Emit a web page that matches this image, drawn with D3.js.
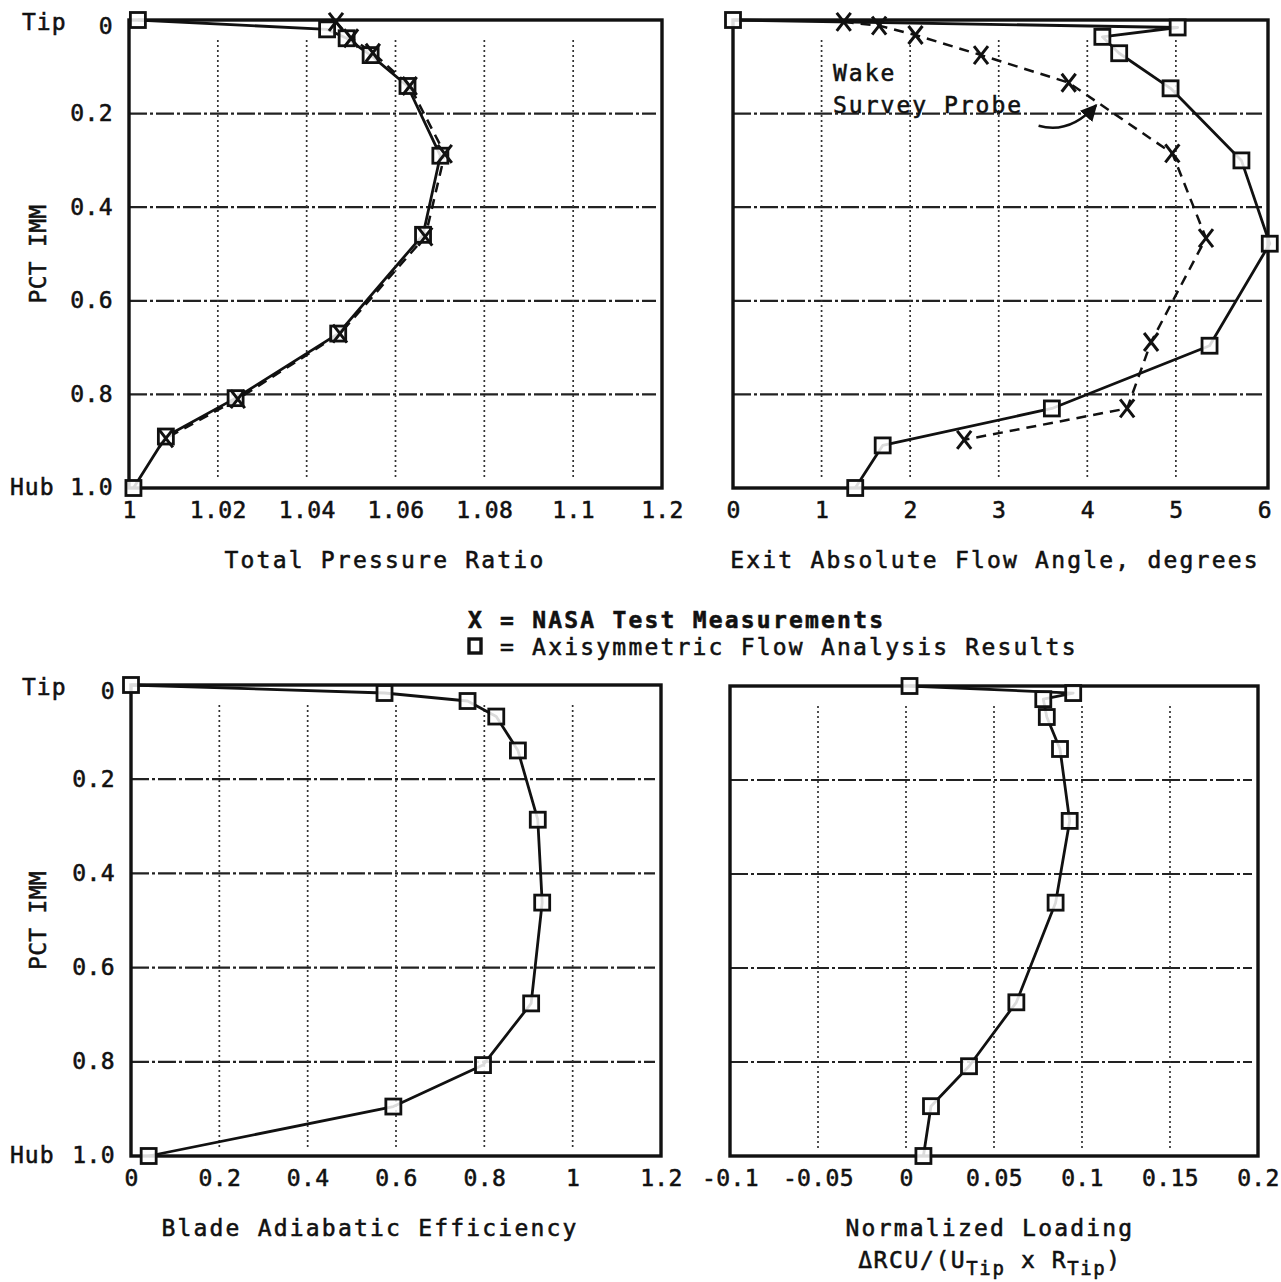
<!DOCTYPE html>
<html>
<head>
<meta charset="utf-8">
<script src="https://cdn.jsdelivr.net/npm/d3@7"></script>
<style>
body { margin: 0; background: #fff; }
text { font-family: 'DejaVu Sans Mono', monospace; fill: #111; stroke: #111; stroke-width: 0.55px; }
</style>
</head>
<body>
<svg id="fig" width="1281" height="1282"></svg>
<script>
// values

// radial position (0 = tip, 1 = hub)
const immTicks = [0, 0.2, 0.4, 0.6, 0.8, 1.0];
const immLabels = ["0", "0.2", "0.4", "0.6", "0.8", "1.0"];
const immGrid = [0.2, 0.4, 0.6, 0.8];

// total pressure ratio
const prTicks = [1, 1.02, 1.04, 1.06, 1.08, 1.10, 1.12];
const prLabels = ["1", "1.02", "1.04", "1.06", "1.08", "1.1", "1.2"];
const prGrid = [1.02, 1.04, 1.06, 1.08, 1.10];
const prCalcImm = [0, 0.02, 0.039, 0.075, 0.141, 0.29, 0.459, 0.67, 0.808, 0.89, 1.0];
const prCalc = [1.002, 1.0446, 1.049, 1.0544, 1.0627, 1.0701, 1.0662, 1.0471, 1.024, 1.0083, 1.001];
const prTestImm = [0.004, 0.039, 0.07, 0.141, 0.286, 0.463, 0.67, 0.81, 0.894];
const prTest = [1.0466, 1.05, 1.0549, 1.0632, 1.0711, 1.0667, 1.0475, 1.0245, 1.0083];

// exit absolute flow angle, degrees
const faTicks = [0, 1, 2, 3, 4, 5, 6];
const faLabels = ["0", "1", "2", "3", "4", "5", "6"];
const faGrid = [1, 2, 3, 4, 5];
const faCalcImm = [0, 0.016, 0.036, 0.071, 0.146, 0.30, 0.478, 0.696, 0.83, 0.909, 1.0];
const faCalc = [0, 5.02, 4.17, 4.36, 4.94, 5.74, 6.06, 5.38, 3.60, 1.69, 1.38];
const faTestImm = [0.004, 0.012, 0.032, 0.075, 0.134, 0.285, 0.466, 0.688, 0.83, 0.897];
const faTest = [1.25, 1.65, 2.06, 2.80, 3.79, 4.96, 5.34, 4.72, 4.45, 2.61];

// blade adiabatic efficiency
const effTicks = [0, 0.2, 0.4, 0.6, 0.8, 1.0, 1.2];
const effLabels = ["0", "0.2", "0.4", "0.6", "0.8", "1", "1.2"];
const effGrid = [0.2, 0.4, 0.6, 0.8, 1.0];
const effCalcImm = [0, 0.017, 0.034, 0.067, 0.139, 0.286, 0.462, 0.676, 0.807, 0.895, 1.0];
const effCalc = [0, 0.574, 0.762, 0.827, 0.876, 0.921, 0.931, 0.906, 0.797, 0.594, 0.040];

// normalized loading
const ldTicks = [-0.1, -0.05, 0, 0.05, 0.1, 0.15, 0.2];
const ldLabels = ["-0.1", "-0.05", "0", "0.05", "0.1", "0.15", "0.2"];
const ldGrid = [-0.05, 0, 0.05, 0.1, 0.15];
const ldCalcImm = [0, 0.015, 0.028, 0.066, 0.134, 0.287, 0.461, 0.673, 0.809, 0.894, 1.0];
const ldCalc = [0.002, 0.095, 0.078, 0.080, 0.0875, 0.093, 0.085, 0.0627, 0.0358, 0.0142, 0.0099];

const svg = d3.select("#fig");

const zip = (a, b) => a.map((v, i) => [v, b[i]]);

function drawPanel(p) {
  const g = svg.append("g");
  const x = d3.scaleLinear().domain(p.dom).range([p.x0, p.x1]);
  const y = d3.scaleLinear().domain([0, 1]).range([p.y0, p.y1]);

  // grid
  g.selectAll(".hg").data(immGrid).enter().append("line")
    .attr("x1", p.x0).attr("x2", p.x1 - 6)
    .attr("y1", d => y(d)).attr("y2", d => y(d))
    .attr("stroke", "#222").attr("stroke-width", 2.2)
    .attr("stroke-dasharray", "18,3,3,3");
  g.selectAll(".vg").data(p.grid).enter().append("line")
    .attr("x1", d => x(d)).attr("x2", d => x(d))
    .attr("y1", p.y0 + 20).attr("y2", p.y1 - 8)
    .attr("stroke", "#333").attr("stroke-width", 1.7)
    .attr("stroke-dasharray", "2,3");

  // frame
  g.append("rect")
    .attr("x", p.x0).attr("y", p.y0)
    .attr("width", p.x1 - p.x0).attr("height", p.y1 - p.y0)
    .attr("fill", "none").attr("stroke", "#111").attr("stroke-width", 3.4);

  // x axis labels
  const xa = d3.axisBottom(x).tickValues(p.ticks)
    .tickFormat((d, i) => p.labels[i]).tickSize(0).tickPadding(0);
  const gx = g.append("g").attr("transform", `translate(0,${p.y1 + 30})`).call(xa);
  gx.select(".domain").remove();
  gx.selectAll("text").attr("font-size", 23).attr("letter-spacing", 0.4)
    .attr("font-family", "'DejaVu Sans Mono', monospace").attr("fill", "#111").attr("dy", "0");

  // y axis labels
  if (p.showY) {
    const ya = d3.axisLeft(y).tickValues(immTicks)
      .tickFormat((d, i) => immLabels[i]).tickSize(0).tickPadding(0);
    const gy = g.append("g").attr("transform", `translate(${p.x0 - 16},0)`).call(ya);
    gy.select(".domain").remove();
    gy.selectAll("text").attr("font-size", 23).attr("letter-spacing", 0.4)
      .attr("font-family", "'DejaVu Sans Mono', monospace").attr("fill", "#111")
      .attr("dy", d => d === 0 ? "0.6em" : "0.3em");
    g.append("text").attr("x", 22).attr("y", y(0)).attr("dy", "0.45em")
      .attr("font-size", 23).attr("letter-spacing", 1).text("Tip");
    g.append("text").attr("x", 10).attr("y", y(1)).attr("dy", "0.3em")
      .attr("font-size", 23).attr("letter-spacing", 1).text("Hub");
    g.append("text")
      .attr("transform", `translate(46,${(p.y0 + p.y1) / 2}) rotate(-90)`)
      .attr("text-anchor", "middle").attr("font-size", 23).attr("letter-spacing", 0.3)
      .text("PCT IMM");
  }

  // titles
  p.title.forEach((t, i) => {
    g.append("text").attr("x", p.titleX).attr("y", p.y1 + 80 + i * 38)
      .attr("text-anchor", "middle").attr("font-size", 23).attr("letter-spacing", 2.2)
      .text(t);
  });

  const line = d3.line().x(d => x(d[0])).y(d => y(d[1]));

  // analysis results: solid line with squares
  const calc = zip(p.calc, p.calcImm);
  g.append("path").datum(calc).attr("d", line)
    .attr("fill", "none").attr("stroke", "#111").attr("stroke-width", 2.8)
    .attr("stroke-linejoin", "round");

  // test measurements: dashed line with X marks
  let test = null;
  if (p.test) {
    test = zip(p.test, p.testImm);
    g.append("path").datum(test).attr("d", line)
      .attr("fill", "none").attr("stroke", "#111").attr("stroke-width", 2.5)
      .attr("stroke-dasharray", "10,7");
  }

  g.selectAll(".sq").data(calc).enter().append("rect")
    .attr("x", d => x(d[0]) - 7.5).attr("y", d => y(d[1]) - 7.5)
    .attr("width", 15).attr("height", 15)
    .attr("fill", "#fff").attr("fill-opacity", 0.85)
    .attr("stroke", "#111").attr("stroke-width", 2.8);

  if (test) {
    g.selectAll(".xm").data(test).enter().append("path")
      .attr("transform", d => `translate(${x(d[0])},${y(d[1])})`)
      .attr("d", "M-7,-9L7,9M7,-9L-7,9")
      .attr("fill", "none").attr("stroke", "#111").attr("stroke-width", 3);
  }
  return {x, y, g};
}

drawPanel({
  x0: 129, x1: 662, y0: 20, y1: 488, dom: [1, 1.12],
  ticks: prTicks, labels: prLabels, grid: prGrid, showY: true,
  title: ["Total Pressure Ratio"], titleX: 385,
  calc: prCalc, calcImm: prCalcImm, test: prTest, testImm: prTestImm
});

const tr = drawPanel({
  x0: 733, x1: 1268, y0: 20, y1: 488, dom: [0, 6.04],
  ticks: faTicks, labels: faLabels, grid: faGrid, showY: false,
  title: ["Exit Absolute Flow Angle, degrees"], titleX: 995,
  calc: faCalc, calcImm: faCalcImm, test: faTest, testImm: faTestImm
});

drawPanel({
  x0: 131, x1: 661, y0: 685, y1: 1156, dom: [0, 1.2],
  ticks: effTicks, labels: effLabels, grid: effGrid, showY: true,
  title: ["Blade Adiabatic Efficiency"], titleX: 370,
  calc: effCalc, calcImm: effCalcImm
});

const br = drawPanel({
  x0: 730, x1: 1258, y0: 686, y1: 1156, dom: [-0.1, 0.2],
  ticks: ldTicks, labels: ldLabels, grid: ldGrid, showY: false,
  title: ["Normalized Loading"], titleX: 990,
  calc: ldCalc, calcImm: ldCalcImm
});

// second line of the loading title, with subscripts
const sub = br.g.append("text").attr("x", 990).attr("y", 1268)
  .attr("text-anchor", "middle").attr("font-size", 23).attr("letter-spacing", 1.6);
sub.append("tspan").text("\u0394RCU/(U");
sub.append("tspan").attr("dy", 7).attr("font-size", 19).text("Tip");
sub.append("tspan").attr("dy", -7).text(" x R");
sub.append("tspan").attr("dy", 7).attr("font-size", 19).text("Tip");
sub.append("tspan").attr("dy", -7).text(")");

// wake survey probe note
tr.g.append("text").attr("x", 833).attr("y", 81).attr("font-size", 23).attr("letter-spacing", 2).text("Wake");
tr.g.append("text").attr("x", 833).attr("y", 113).attr("font-size", 23).attr("letter-spacing", 2).text("Survey Probe");
svg.append("defs").append("marker").attr("id", "ah")
  .attr("viewBox", "0 0 10 10").attr("refX", 9).attr("refY", 5)
  .attr("markerWidth", 7).attr("markerHeight", 7).attr("orient", "auto")
  .append("path").attr("d", "M0,0L10,5L0,10Z").attr("fill", "#111");
tr.g.append("path")
  .attr("d", `M${tr.x(3.45)},${tr.y(0.226)} Q${tr.x(3.8)},${tr.y(0.245)} ${tr.x(4.1)},${tr.y(0.182)}`)
  .attr("fill", "none").attr("stroke", "#111").attr("stroke-width", 2.4)
  .attr("marker-end", "url(#ah)");

// legend
svg.append("text").attr("x", 468).attr("y", 628).attr("font-size", 23)
  .attr("font-weight", "bold").attr("letter-spacing", 2.2)
  .text("X = NASA Test Measurements");
svg.append("rect").attr("x", 469).attr("y", 639).attr("width", 12).attr("height", 14)
  .attr("fill", "#fff").attr("stroke", "#111").attr("stroke-width", 3.4);
svg.append("text").attr("x", 500).attr("y", 655).attr("font-size", 23)
  .attr("letter-spacing", 2.2)
  .text("= Axisymmetric Flow Analysis Results");
</script>
</body>
</html>
